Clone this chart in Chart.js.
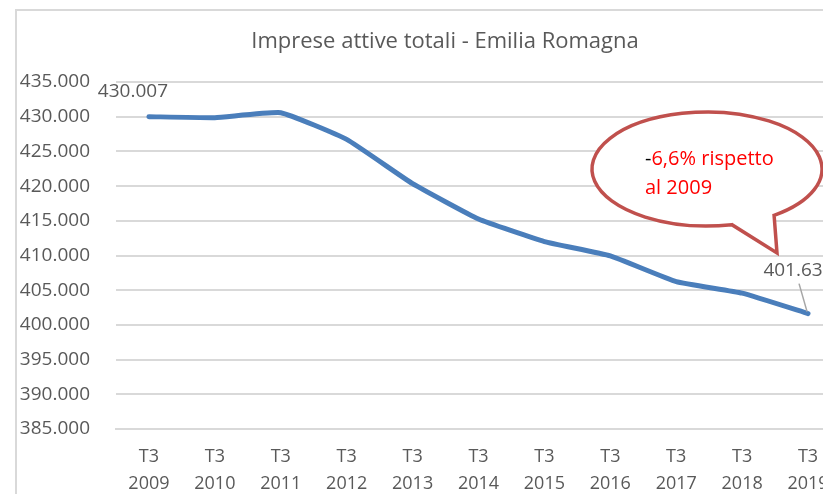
<!DOCTYPE html>
<html>
<head>
<meta charset="utf-8">
<script src="https://cdn.jsdelivr.net/npm/chart.js@4"></script>
<style>
  html, body { margin: 0; padding: 0; background: #fff; }
  #wrap { width: 823px; height: 494px; overflow: hidden; position: relative; }
  canvas { display: block; }
</style>
</head>
<body>
<div id="wrap"><canvas id="c" width="890" height="494"></canvas></div>
<script>
// ---- data ----
const quarters = ['T3','T3','T3','T3','T3','T3','T3','T3','T3','T3','T3'];
const years = ['2009','2010','2011','2012','2013','2014','2015','2016','2017','2018','2019'];
const impreseAttive = [430007, 429860, 430580, 426730, 420350, 415250, 412010, 409950, 406240, 404570, 401630];
const yMin = 385000;
const yMax = 435000;
const yStep = 5000;
const titleText = 'Imprese attive totali - Emilia Romagna';
const firstLabel = '430.007';
const lastLabel = '401.63';
const calloutLine1Dash = '-';
const calloutLine1 = '6,6% rispetto';
const calloutLine2 = 'al 2009';

const GRAY_TEXT = '#595959';
const FONT = '"Open Sans", "Liberation Sans", sans-serif';

function fmt(v) {
  return String(Math.round(v)).replace(/\B(?=(\d{3})+(?!\d))/g, '.');
}

const framePlugin = {
  id: 'frame',
  beforeDraw(chart) {
    const ctx = chart.ctx;
    ctx.save();
    ctx.fillStyle = '#ffffff';
    ctx.fillRect(0, 0, chart.width, chart.height);
    ctx.strokeStyle = '#D9D9D9';
    ctx.lineWidth = 2;
    ctx.strokeRect(16, 10, chart.width + 50, chart.height + 50);
    // title
    ctx.fillStyle = GRAY_TEXT;
    ctx.font = '22px ' + FONT;
    ctx.textAlign = 'center';
    ctx.textBaseline = 'middle';
    ctx.fillText(titleText, 445, 42);
    ctx.restore();
  }
};

const annotPlugin = {
  id: 'annot',
  afterDatasetsDraw(chart) {
    const ctx = chart.ctx;
    const meta = chart.getDatasetMeta(0);
    const pts = meta.data;
    const first = pts[0], last = pts[pts.length - 1];
    ctx.save();
    // first data label
    ctx.fillStyle = GRAY_TEXT;
    ctx.font = '19px ' + FONT;
    ctx.textAlign = 'center';
    ctx.textBaseline = 'middle';
    ctx.fillText(firstLabel, first.x - 16, first.y - 25);
    // last data label with leader line
    ctx.fillText(lastLabel, last.x - 15, last.y - 43);
    ctx.strokeStyle = '#A6A6A6';
    ctx.lineWidth = 1.5;
    ctx.beginPath();
    ctx.moveTo(last.x - 9, last.y - 30);
    ctx.lineTo(last.x - 1, last.y - 2);
    ctx.stroke();

    // callout bubble
    const ca = chart.chartArea;
    const cx = ca.left + 591, cy = ca.top + 87;
    const rx = 115, ry = 57;
    const tip = { x: ca.left + 661, y: ca.top + 171 };
    const aRight = Math.atan2((ca.top + 136 - cy) / ry, (ca.left + 662 - cx) / rx); // right base
    const aLeft = Math.atan2((ca.top + 143 - cy) / ry, (ca.left + 616 - cx) / rx);  // left base
    ctx.strokeStyle = '#C0504D';
    ctx.lineWidth = 3.5;
    ctx.lineJoin = 'miter';
    ctx.fillStyle = '#ffffff';
    ctx.beginPath();
    ctx.ellipse(cx, cy, rx, ry, 0, aLeft, aRight + Math.PI * 2, false);
    ctx.lineTo(tip.x, tip.y);
    ctx.closePath();
    ctx.fill();
    ctx.stroke();

    // callout text
    ctx.textAlign = 'left';
    ctx.textBaseline = 'alphabetic';
    ctx.font = '20px ' + FONT;
    const tx = cx - 62, ty1 = cy - 4, ty2 = cy + 25;
    ctx.fillStyle = '#000000';
    ctx.fillText(calloutLine1Dash, tx, ty1);
    const dw = ctx.measureText(calloutLine1Dash).width;
    ctx.fillStyle = '#FF0000';
    ctx.fillText(calloutLine1, tx + dw, ty1);
    ctx.fillText(calloutLine2, tx, ty2);
    ctx.restore();
  }
};

const labels = quarters.map((q, i) => [q, years[i]]);

new Chart(document.getElementById('c'), {
  type: 'line',
  data: {
    labels: labels,
    datasets: [{
      data: impreseAttive,
      borderColor: '#4A7EBB',
      borderWidth: 5,
      pointRadius: 0,
      tension: 0.12,
      fill: false,
      borderCapStyle: 'round',
      borderJoinStyle: 'round'
    }]
  },
  options: {
    responsive: false,
    animation: false,
    layout: { padding: { left: 0, right: 49, top: 82, bottom: 0 } },
    plugins: {
      legend: { display: false },
      tooltip: { enabled: false },
      title: { display: false }
    },
    scales: {
      x: {
        offset: true,
        grid: { display: false, drawTicks: false },
        border: { display: true, color: '#D9D9D9', width: 2 },
        ticks: {
          color: GRAY_TEXT,
          font: { family: FONT, size: 18, lineHeight: 1.5 },
          padding: 14,
          maxRotation: 0,
          autoSkip: false
        },
        afterFit(scale) { scale.height = 65; }
      },
      y: {
        min: yMin,
        max: yMax,
        grid: { color: '#D9D9D9', lineWidth: 2, drawTicks: false },
        border: { display: false },
        ticks: {
          stepSize: yStep,
          color: GRAY_TEXT,
          font: { family: FONT, size: 19 },
          padding: 26,
          callback: (v) => fmt(v)
        },
        afterFit(scale) { scale.width = 116; }
      }
    }
  },
  plugins: [framePlugin, annotPlugin]
});
</script>
</body>
</html>
